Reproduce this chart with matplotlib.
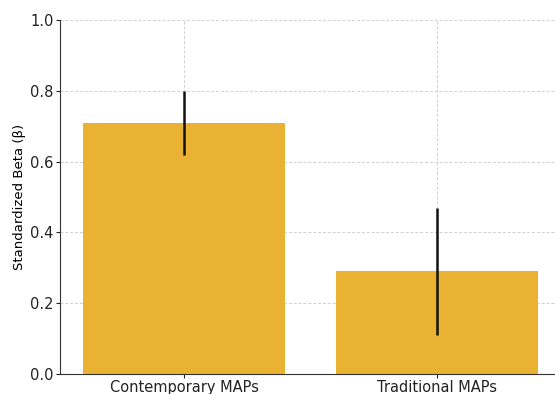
import numpy as np
import matplotlib
matplotlib.use("Agg")
import matplotlib.pyplot as plt

# Data
categories = ["Contemporary MAPs", "Traditional MAPs"]
betas = [0.71, 0.29]
errors = [0.09, 0.18]

fig = plt.figure(figsize=(5.55, 3.94), dpi=100)
# axes run past the right edge, as in the (cropped) reference
ax = fig.add_axes([60 / 555, 20 / 394, 501 / 555, 354 / 394])

x = np.arange(len(categories))
ax.bar(x, betas, width=0.8, color="#E9B233", zorder=2)
ax.errorbar(x, betas, yerr=errors, fmt="none", ecolor="#111111",
            elinewidth=1.8, capsize=0, zorder=3)

ax.set_xticks(x)
ax.set_xticklabels(categories, fontsize=10.5)
ax.set_ylim(0, 1.0)
ax.set_yticks([0.0, 0.2, 0.4, 0.6, 0.8, 1.0])
ax.tick_params(axis="both", length=3, pad=1.5, labelsize=10.5, colors="#222222")
ax.set_ylabel("Standardized Beta (β)", fontsize=9.5, labelpad=3)
ax.set_xlim(-0.49, 1.49)

ax.grid(True, linestyle=(0, (3, 2)), color="#d0d0d0", linewidth=0.7, zorder=0)
ax.set_axisbelow(True)
ax.spines["top"].set_visible(False)
ax.spines["right"].set_visible(False)
for s in ["left", "bottom"]:
    ax.spines[s].set_color("#333333")

fig.savefig("out.png", dpi=100)
